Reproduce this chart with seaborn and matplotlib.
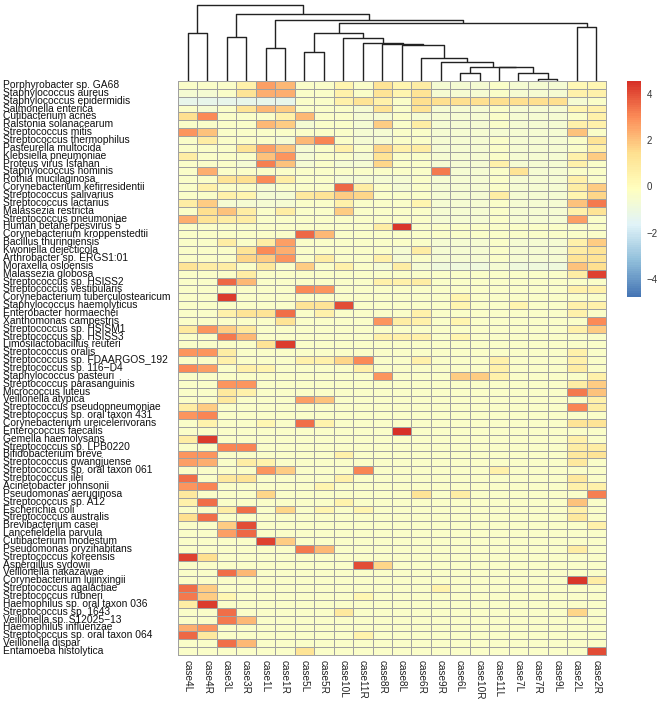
import numpy as np
import pandas as pd
import matplotlib
matplotlib.use("Agg")
import matplotlib.pyplot as plt
import seaborn as sns
from matplotlib.colors import LinearSegmentedColormap

species = [
    "Porphyrobacter sp. GA68", "Staphylococcus aureus", "Staphylococcus epidermidis",
    "Salmonella enterica", "Cutibacterium acnes", "Ralstonia solanacearum",
    "Streptococcus mitis", "Streptococcus thermophilus", "Pasteurella multocida",
    "Klebsiella pneumoniae", "Proteus virus Isfahan", "Staphylococcus hominis",
    "Rothia mucilaginosa", "Corynebacterium kefirresidentii", "Streptococcus salivarius",
    "Streptococcus lactarius", "Malassezia restricta", "Streptococcus pneumoniae",
    "Human betaherpesvirus 5", "Corynebacterium kroppenstedtii", "Bacillus thuringiensis",
    "Kwoniella dejecticola", "Arthrobacter sp. ERGS1:01", "Moraxella osloensis",
    "Malassezia globosa", "Streptococcus sp. HSISS2", "Streptococcus vestibularis",
    "Corynebacterium tuberculostearicum", "Staphylococcus haemolyticus", "Enterobacter hormaechei",
    "Xanthomonas campestris", "Streptococcus sp. HSISM1", "Streptococcus sp. HSISS3",
    "Limosilactobacillus reuteri", "Streptococcus oralis", "Streptococcus sp. FDAARGOS_192",
    "Streptococcus sp. 116\u2212D4", "Staphylococcus pasteuri", "Streptococcus parasanguinis",
    "Micrococcus luteus", "Veillonella atypica", "Streptococcus pseudopneumoniae",
    "Streptococcus sp. oral taxon 431", "Corynebacterium ureicelerivorans", "Enterococcus faecalis",
    "Gemella haemolysans", "Streptococcus sp. LPB0220", "Bifidobacterium breve",
    "Streptococcus gwangjuense", "Streptococcus sp. oral taxon 061", "Streptococcus ilei",
    "Acinetobacter johnsonii", "Pseudomonas aeruginosa", "Streptococcus sp. A12",
    "Escherichia coli", "Streptococcus australis", "Brevibacterium casei",
    "Lancefieldella parvula", "Cutibacterium modestum", "Pseudomonas oryzihabitans",
    "Streptococcus koreensis", "Aspergillus sydowii", "Veillonella nakazawae",
    "Corynebacterium lujinxingii", "Streptococcus agalactiae", "Streptococcus rubneri",
    "Haemophilus sp. oral taxon 036", "Streptococcus sp. 1643", "Veillonella sp. S12025\u221213",
    "Haemophilus influenzae", "Streptococcus sp. oral taxon 064", "Veillonella dispar",
    "Entamoeba histolytica",
]

cases = ["case4L", "case4R", "case3L", "case3R", "case1L", "case1R", "case5L", "case5R",
         "case10L", "case11R", "case8R", "case8L", "case6R", "case9R", "case6L", "case10R",
         "case11L", "case7L", "case7R", "case9L", "case2L", "case2R"]

values = [
    [-.3, -.3, -.3, .6, 2.6, 2.2, -.3, -.3, .4, -.3, 1.2, .4, .8, -.6, -.6, -.6, -.3, -.6, -.6, -.6, .2, .3],
    [-.6, -.6, -.3, 1.2, 2.4, 2.4, -.3, -.3, .6, -.3, 1.2, .4, 1.2, -.6, -.6, -.6, -.3, -.6, -.6, -.6, .6, .6],
    [-1.3, -1.3, -1.3, -1.3, -1.3, -1.3, -.3, -.3, .6, 1.2, .6, -.3, 1.4, 1.4, 1.4, 1.4, 1.4, 1.4, 1.4, 1.4, -.6, -.3],
    [-.3, -.6, -.3, 1.2, 2.2, 1.8, -.3, -.3, -.3, -.6, 1.2, -.3, 1.2, -.6, -.6, -.6, -.3, -.6, -.6, -.6, .4, .6],
    [1.4, 3.0, -.3, -.3, -.3, .6, 2.2, -.3, -.3, -.6, -.6, -.3, -.6, -.6, -.6, -.6, -.3, -.6, -.6, -.6, -.3, .6],
    [-.3, -.3, -.3, -.3, 2.2, 1.8, -.6, -.3, -.3, -.6, 1.8, -.3, .8, -.6, -.6, -.6, -.3, -.6, -.6, -.6, .6, .6],
    [2.8, 2.0, -.3, -.3, -.3, -.3, -.3, -.3, -.3, -.6, -.6, -.3, -.3, -.6, -.6, -.6, -.6, -.6, -.6, -.6, 2.0, -.3],
    [-.3, .8, -.3, -.3, -.3, -.6, 2.2, 3.1, -.3, -.6, -.6, -.3, -.3, -.6, -.6, -.6, -.3, -.6, -.6, -.6, -.3, 1.2],
    [-.3, -.3, -.3, 1.2, 2.6, 2.0, -.6, -.3, .6, -.3, 1.6, .6, .8, -.6, -.6, -.6, -.3, -.6, -.6, -.6, -.3, .6],
    [.8, -.3, -.3, -.3, 2.0, 2.8, -.6, -.3, -.3, -.6, 1.2, -.3, -.3, -.6, -.6, -.6, -.3, -.6, -.6, -.6, .6, 1.8],
    [-.3, -.3, -.3, -.6, 3.2, 2.0, -.6, -.3, -.6, -.6, 1.6, -.3, -.3, -.6, -.6, -.6, .6, -.6, -.6, -.6, .6, -.3],
    [-.3, 2.4, -.3, -.3, -.3, -.3, -.3, -.3, -.3, -.3, -.3, -.3, -.3, 3.3, -.6, -.6, -.3, 1.2, -.6, -.6, -.3, -.3],
    [-.3, -.3, 1.2, 1.4, 3.0, .8, -.3, -.3, -.6, -.6, -.6, -.6, -.3, -.6, -.6, -.6, -.3, -.6, -.6, -.6, .6, -.3],
    [-.3, .6, -.3, -.3, -.6, -.3, -.3, -.3, 3.6, .8, -.3, -.6, -.3, -.6, -.6, -.6, -.3, -.6, -.6, -.6, .8, 1.8],
    [-.3, -.3, .6, .4, -.6, -.6, 1.0, 1.2, 1.8, 1.6, -.3, -.3, -.3, -.6, -.6, -.6, .8, -.6, -.6, -.6, .4, 1.6],
    [.8, 1.8, -.6, -.6, -.6, -.6, -.3, -.3, .6, -.3, -.3, -.3, .4, -.6, -.6, -.6, -.3, -.6, -.6, -.6, 2.0, 3.3],
    [-.3, 1.4, 2.0, .8, -.3, .8, -.3, -.3, 1.8, -.3, -.3, -.3, -.3, -.6, -.6, -.6, -.3, -.6, -.6, -.6, .6, 1.2],
    [2.4, 1.2, .8, .8, -.3, -.3, -.3, -.3, -.3, -.3, -.3, -.3, -.3, -.6, -.6, -.6, -.3, -.6, -.6, -.6, 2.6, -.3],
    [-.3, -.3, -.3, -.3, -.3, -.3, -.3, -.3, -.3, -.3, .8, 4.4, -.3, -.3, -.3, -.3, -.3, -.3, -.3, -.3, -.3, -.3],
    [-.3, -.3, -.3, -.3, -.3, -.3, 3.6, 2.2, -.3, -.3, -.3, -.3, -.3, -.3, -.3, -.3, -.3, -.3, -.3, -.3, -.3, -.3],
    [-.3, -.3, .8, -.3, .8, 2.6, -.3, -.3, -.3, -.3, -.3, -.3, -.3, -.6, -.6, -.6, -.3, -.6, -.6, -.6, .6, 1.8],
    [-.3, -.3, -.3, 1.2, 3.0, 2.4, -.3, -.3, -.3, -.3, -.3, -.6, .8, -.6, -.6, -.6, -.3, -.6, -.6, -.6, .8, 1.2],
    [-.3, -.3, -.3, 1.6, 1.8, 2.8, -.3, .8, -.3, -.3, .6, -.6, -.3, -.6, -.6, -.6, -.3, -.6, -.6, -.6, 1.2, 1.2],
    [1.2, .8, .8, -.3, 1.0, -.3, 1.8, -.3, .6, -.3, -.6, .8, -.6, -.9, -.9, -.9, -.6, -.9, -.9, -.9, 2.0, 1.4],
    [-.3, -.3, -.3, .8, -.3, -.3, -.3, -.3, -.3, -.3, -.3, -.3, -.3, -.3, -.3, -.3, -.3, -.3, -.3, -.3, .8, 4.2],
    [-.3, -.3, 3.6, 2.2, -.3, -.3, -.3, -.3, -.3, -.3, .6, .6, .8, -.3, -.3, -.3, -.3, -.3, -.3, -.3, -.3, -.3],
    [-.3, -.3, -.3, -.3, -.3, -.3, 3.0, 2.8, -.3, -.3, -.3, -.3, -.3, -.3, -.3, -.3, -.3, -.3, -.3, -.3, .6, .6],
    [-.3, -.3, 4.3, -.3, -.3, -.3, -.3, -.3, -.3, -.3, -.3, -.3, -.3, -.3, .4, -.3, -.3, -.3, -.3, -.3, -.3, -.3],
    [-.3, -.3, -.3, -.3, -.3, -.3, 1.2, 1.2, 4.0, -.3, -.3, -.3, -.3, -.3, .4, -.3, -.3, .4, -.3, -.3, .6, .6],
    [-.3, -.3, .6, 1.2, 1.2, 3.5, -.3, .6, -.3, -.3, -.3, -.3, .6, -.3, -.3, -.3, -.3, -.3, -.3, -.3, .6, -.3],
    [-.3, -.3, -.3, -.3, -.3, 1.2, -.3, -.3, -.3, -.3, 2.8, .8, .6, -.3, .4, -.3, -.3, -.3, -.3, -.3, -.3, 3.0],
    [1.0, 2.8, 1.8, 1.0, -.3, -.3, -.3, -.3, -.3, -.3, -.3, -.3, -.3, -.3, -.3, -.3, -.3, -.3, -.3, -.3, .6, 1.8],
    [-.3, -.3, 3.3, 2.2, -.3, -.3, -.3, -.3, -.3, -.3, .6, .6, .6, -.3, .4, -.3, -.3, -.3, -.3, -.3, -.3, -.3],
    [-.3, -.3, -.3, -.3, 1.2, 4.3, -.3, -.3, -.3, -.3, -.3, -.3, -.3, -.3, -.3, -.3, -.3, -.3, -.3, -.3, -.3, -.3],
    [2.8, 2.8, .8, -.3, -.3, -.3, -.3, -.3, -.3, -.3, -.3, -.3, -.3, -.3, -.3, -.3, -.3, -.3, -.3, -.3, .6, -.3],
    [-.3, -.3, .6, -.3, -.3, -.3, .6, .6, 1.6, 3.0, -.3, -.3, .6, -.3, -.3, -.3, .6, -.3, -.3, -.3, .6, -.3],
    [3.0, 2.6, -.3, .6, .4, -.3, -.3, -.3, -.3, .6, -.3, -.3, -.3, -.3, -.3, -.3, .6, -.3, -.3, -.3, .8, -.3],
    [-.3, -.3, -.3, -.3, -.3, -.3, -.3, -.3, -.3, -.3, 2.8, -.3, -.3, -.3, 1.8, 1.8, .6, -.3, -.3, -.3, -.3, .6],
    [-.3, -.3, 2.8, 2.8, -.3, -.3, -.3, -.3, -.3, -.3, -.3, -.3, -.3, -.3, -.3, -.3, -.3, -.3, -.3, -.3, .8, 1.8],
    [-.3, -.3, 1.0, .6, -.3, -.3, -.3, -.3, -.3, -.3, -.3, -.3, -.3, -.3, -.3, -.3, -.3, -.3, -.3, -.3, 3.3, 2.0],
    [-.3, -.3, 1.0, -.3, -.3, -.3, 2.6, 2.0, -.3, -.3, -.3, -.3, -.3, -.3, -.3, -.3, -.3, -.3, -.3, -.3, -.3, .6],
    [.8, 1.8, -.3, -.3, -.3, -.3, -.3, -.3, -.3, -.3, -.3, -.3, -.3, -.3, -.3, -.3, -.3, -.3, -.3, -.3, 3.1, .8],
    [2.8, 3.1, -.3, -.3, -.3, -.3, -.3, -.3, -.3, -.3, -.3, -.3, -.3, -.3, -.3, -.3, -.3, -.3, -.3, -.3, -.3, -.3],
    [-.3, .5, -.3, -.3, .3, -.3, 3.5, .5, -.3, -.3, -.3, -.3, -.3, -.3, -.3, -.3, -.3, -.3, -.3, -.3, 1.2, 1.2],
    [-.3, -.3, -.3, -.3, -.3, -.3, -.3, -.3, -.3, -.3, -.3, 4.5, -.3, -.3, -.3, -.3, -.3, -.3, -.3, -.3, -.3, -.3],
    [.8, 4.3, -.3, -.3, -.3, -.3, -.3, -.3, -.3, -.3, -.3, -.3, -.3, -.3, -.3, -.3, -.3, -.3, -.3, -.3, .6, -.3],
    [-.3, -.3, 3.1, 3.1, -.3, -.3, -.3, -.3, -.3, -.3, -.3, -.3, -.3, -.3, -.3, -.3, -.3, -.3, -.3, -.3, .8, .8],
    [2.8, 2.8, -.3, -.3, -.3, -.3, -.3, -.3, .6, -.3, -.3, -.3, -.3, -.3, -.3, -.3, -.3, -.3, -.3, -.3, 1.0, 1.2],
    [2.6, 2.4, -.3, .8, .5, -.3, -.3, -.3, -.3, -.3, -.3, -.3, -.3, -.3, -.3, -.3, -.3, -.3, -.3, -.3, 1.0, -.3],
    [-.3, -.3, -.3, -.3, 2.8, 1.8, -.3, -.3, -.3, 3.1, -.3, -.3, -.3, -.3, -.3, -.3, .6, -.3, -.3, -.3, -.3, -.3],
    [3.5, -.3, 1.0, 1.2, -.3, -.3, -.3, -.3, .6, -.3, -.3, -.3, -.3, -.3, -.3, -.3, -.3, -.3, -.3, -.3, 1.0, -.3],
    [2.8, 3.1, -.3, -.3, -.3, -.3, -.3, .4, -.3, -.3, -.3, -.3, -.3, -.3, -.3, -.3, -.3, -.3, -.3, -.3, .6, .6],
    [1.0, -.3, -.3, -.3, 1.6, -.3, -.3, -.3, -.3, -.3, -.3, -.3, 1.2, -.3, .8, -.3, -.3, -.3, -.3, -.3, -.3, 3.2],
    [.6, 3.5, -.3, -.3, -.3, -.3, -.3, -.3, .5, -.3, -.3, -.3, -.3, -.3, -.3, -.3, -.3, -.3, -.3, -.3, 2.0, -.3],
    [-.3, -.3, .8, 3.5, -.3, 1.6, -.3, .4, -.3, .4, -.3, -.3, -.3, -.3, -.3, -.3, -.3, -.3, -.3, -.3, .6, -.3],
    [1.4, 3.5, -.3, -.3, -.3, -.3, -.3, -.3, -.3, -.3, -.3, -.3, -.3, -.3, -.3, -.3, -.3, -.3, -.3, -.3, 1.0, -.3],
    [-.3, -.3, 1.8, 4.0, -.3, -.3, -.3, -.3, -.3, -.3, -.3, -.3, -.3, -.3, -.3, -.3, -.3, -.3, -.3, -.3, -.3, .6],
    [-.3, -.3, 2.6, 3.6, -.3, -.3, -.3, -.3, -.3, -.3, -.3, -.3, -.3, -.3, -.3, -.3, -.3, -.3, -.3, -.3, -.3, -.3],
    [-.3, -.3, -.3, -.3, 4.2, 1.8, -.3, -.3, -.3, -.3, -.3, -.3, -.3, -.3, -.3, -.3, -.3, -.3, -.3, -.3, -.3, -.3],
    [-.3, -.3, -.3, -.3, -.3, -.3, 3.3, 2.2, -.3, -.3, -.3, -.3, -.3, -.3, -.3, -.3, -.3, -.3, -.3, -.3, .8, -.3],
    [4.2, 1.4, -.3, -.3, -.3, -.3, -.3, -.3, -.3, -.3, -.3, -.3, -.3, -.3, -.3, -.3, -.3, -.3, -.3, -.3, -.3, -.3],
    [-.3, -.3, -.3, -.3, -.3, -.3, -.3, -.3, -.3, 4.0, 1.6, -.3, -.3, -.3, -.3, -.3, -.3, -.3, -.3, -.3, -.3, -.3],
    [-.3, -.3, 3.5, 2.2, -.3, -.3, -.3, -.3, -.3, -.3, -.3, -.3, -.3, -.3, -.3, -.3, -.3, -.3, -.3, -.3, -.3, -.3],
    [-.3, -.3, -.3, -.3, -.3, -.3, -.3, -.3, -.3, -.3, -.3, -.3, -.3, -.3, -.3, -.3, -.3, -.3, -.3, -.3, 4.4, .8],
    [3.5, 1.8, -.3, -.3, -.3, -.3, -.3, -.3, -.3, -.3, -.3, -.3, -.3, .5, -.3, -.3, -.3, -.3, -.3, -.3, -.3, -.3],
    [3.3, 1.8, .3, -.3, -.3, -.3, -.3, -.3, -.3, .3, -.3, -.3, -.3, -.3, -.3, -.3, -.3, -.3, -.3, -.3, -.3, -.3],
    [.8, 4.3, -.3, -.3, -.3, -.3, -.3, -.3, -.3, -.3, -.3, -.3, -.3, -.3, -.3, -.3, -.3, -.3, -.3, -.3, -.3, -.3],
    [-.3, -.3, 3.5, -.3, -.3, -.3, -.3, -.3, 1.0, -.3, -.3, -.3, -.3, -.3, -.3, -.3, -.3, -.3, -.3, -.3, 1.6, -.3],
    [-.3, -.3, 3.3, 2.2, -.3, -.3, -.3, -.3, -.3, -.3, -.3, -.3, -.3, -.3, -.3, -.3, -.3, -.3, -.3, -.3, -.3, -.3],
    [2.4, 2.8, -.3, -.3, -.3, -.3, -.3, -.3, -.3, -.3, -.3, -.3, -.3, -.3, -.3, -.3, -.3, -.3, -.3, -.3, -.3, -.3],
    [3.6, 1.0, -.3, -.3, -.3, -.3, -.3, -.3, -.3, .5, -.3, -.3, -.3, -.3, -.3, -.3, -.3, -.3, -.3, -.3, -.3, -.3],
    [-.3, -.3, 3.5, 2.2, -.3, -.3, -.3, -.3, -.3, -.3, -.3, -.3, -.3, -.3, -.3, -.3, -.3, -.3, -.3, -.3, -.3, -.3],
    [-.3, -.3, -.3, -.3, -.3, -.3, 1.2, -.3, -.3, -.3, -.3, -.3, -.3, -.3, -.3, -.3, -.3, -.3, -.3, -.3, -.3, 4.0],
]

# column dendrogram: (left child, right child, height); ints refer to earlier merges
merges = [
    ("case7R", "case9L", 1.7),
    ("case7L", 0, 8.3),
    ("case11L", 1, 14.0),
    ("case6L", "case10R", 8.3),
    (3, 2, 14.3),
    ("case9R", 4, 19.3),
    ("case6R", 5, 22.7),
    ("case8L", 6, 36.0),
    ("case8R", 7, 37.3),
    ("case11R", 8, 38.3),
    ("case10L", 9, 42.7),
    ("case5L", "case5R", 28.7),
    (11, 10, 47.7),
    ("case2L", "case2R", 53.7),
    (12, 13, 58.3),
    ("case1L", "case1R", 33.3),
    (15, 14, 61.0),
    ("case3L", "case3R", 43.7),
    (17, 16, 66.7),
    ("case4L", "case4R", 47.7),
    (19, 18, 76.0),
]

palette = ["#4575B4", "#91BFDB", "#E0F3F8", "#FFFFBF", "#FEE090", "#FC8D59", "#D73027"]

sns.set_theme(style="white")
plt.rcParams["font.family"] = ["Liberation Sans", "DejaVu Sans"]

W, H = 664, 705
fig = plt.figure(figsize=(W / 100, H / 100), dpi=100)
ax = fig.add_axes([178 / W, 1 - 655 / H, 428 / W, 574 / H])
cax = fig.add_axes([627 / W, 1 - 297 / H, 14 / W, 216 / H])
dax = fig.add_axes([178 / W, 1 - 81 / H, 428 / W, 78 / H])

df = pd.DataFrame(values, index=species, columns=cases)
cmap = LinearSegmentedColormap.from_list("rdylbu_r", palette, N=100)

sns.heatmap(df, ax=ax, cbar_ax=cax, cmap=cmap, vmin=-4.78, vmax=4.56,
            linewidths=0.7, linecolor="#A0A0A0",
            xticklabels=True, yticklabels=True)

for s in ax.spines.values():
    s.set_visible(True)
    s.set_color("#A0A0A0")
    s.set_linewidth(0.7)

ax.tick_params(axis="y", length=0, pad=126, labelsize=7.4, colors="#111111")
for lab in ax.get_yticklabels():
    lab.set_ha("left")
    lab.set_rotation(0)
ax.tick_params(axis="x", length=0, pad=3.5, labelsize=7.2, colors="#222222")
for lab in ax.get_xticklabels():
    lab.set_rotation(270)
    lab.set_va("top")
    lab.set_ha("center")

cbar = ax.collections[0].colorbar
cbar.outline.set_visible(False)
cbar.set_ticks([-4, -2, 0, 2, 4])
cax.tick_params(length=0, pad=4, labelsize=7, colors="#333333")

# dendrogram drawing
pos = {}
for i, c in enumerate(cases):
    pos[c] = (i + 0.5, 0.0)
for k, (a, b, h) in enumerate(merges):
    xa, ha = pos[a]
    xb, hb = pos[b]
    dax.plot([xa, xa, xb, xb], [ha, h, h, hb], color="#222222", lw=1.0,
             solid_capstyle="butt")
    pos[k] = ((xa + xb) / 2, h)
dax.set_xlim(0, len(cases))
dax.set_ylim(0, 78)
dax.axis("off")

fig.savefig("out.png", dpi=100)
